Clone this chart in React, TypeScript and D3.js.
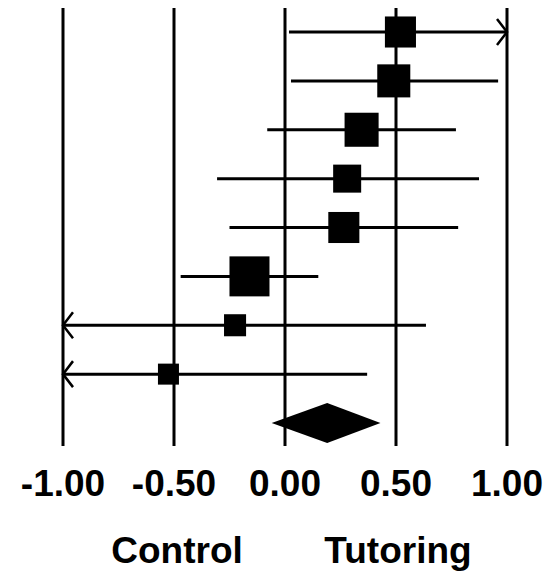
import React from 'react';
import * as d3 from 'd3';

// effect sizes per study, last entry is the pooled estimate
const studies = ['S1', 'S2', 'S3', 'S4', 'S5', 'S6', 'S7', 'S8'];
const estimate = [0.52, 0.49, 0.345, 0.28, 0.265, -0.16, -0.225, -0.525];
const lower = [0.018, 0.027, -0.08, -0.306, -0.25, -0.47, -1.2, -1.3];
const upper = [1.1, 0.96, 0.77, 0.874, 0.78, 0.15, 0.635, 0.37];
const weights = [12.9, 14.6, 15.5, 10.5, 12.9, 21.4, 6.5, 5.9];
const pooled = { est: 0.19, lo: -0.06, hi: 0.43 };
const tickValues = [-1, -0.5, 0, 0.5, 1];
const sideLabels = ['Control', 'Tutoring'];

const W = 555;
const H = 576;

export default function App() {
  const x = d3.scaleLinear().domain([-1, 1]).range([63, 507]);
  const y = d3.scalePoint<number>()
    .domain(d3.range(studies.length + 1))
    .range([32, 423]);
  const size = d3.scaleSqrt().domain([0, d3.max(weights) as number]).range([0, 40]);
  // plain hyphen, not the unicode minus d3.format gives
  const fmt = (v: number) => d3.format('.2f')(v).replace('\u2212', '-');
  const font = 'Liberation Sans, Arial, sans-serif';

  const clampX = (v: number) => x(Math.max(-1, Math.min(1, v)));
  const py = y(studies.length) as number;

  return (
    <svg width={W} height={H} style={{ position: 'absolute', left: 0, top: 0, background: '#fff' }}>
      {tickValues.map(t => (
        <line key={'v' + t} x1={x(t)} x2={x(t)} y1={8} y2={446} stroke="#000" strokeWidth={3} />
      ))}
      {studies.map((s, i) => {
        const yy = y(i) as number;
        const x1 = clampX(lower[i]);
        const x2 = clampX(upper[i]);
        const sz = size(weights[i]);
        return (
          <g key={s}>
            <line x1={x1} x2={x2} y1={yy} y2={yy} stroke="#000" strokeWidth={3} />
            {upper[i] > 1 && (
              <polyline points={`${x2 - 10},${yy - 13} ${x2},${yy} ${x2 - 10},${yy + 13}`}
                fill="none" stroke="#000" strokeWidth={2.5} />
            )}
            {lower[i] < -1 && (
              <polyline points={`${x1 + 10},${yy - 13} ${x1},${yy} ${x1 + 10},${yy + 13}`}
                fill="none" stroke="#000" strokeWidth={2.5} />
            )}
            <rect x={x(estimate[i]) - sz / 2} y={yy - sz / 2} width={sz} height={sz} fill="#000" />
          </g>
        );
      })}
      <path
        d={`M${x(pooled.lo)},${py} L${x(pooled.est)},${py - 20} L${x(pooled.hi)},${py} L${x(pooled.est)},${py + 20} Z`}
        fill="#000" />
      {tickValues.map(t => (
        <text key={'t' + t} x={x(t)} y={496} textAnchor="middle" fontFamily={font}
          fontWeight="bold" fontSize={37}>{fmt(t)}</text>
      ))}
      <text x={177} y={563} textAnchor="middle" fontFamily={font} fontWeight="bold" fontSize={37}>{sideLabels[0]}</text>
      <text x={398} y={563} textAnchor="middle" fontFamily={font} fontWeight="bold" fontSize={37}>{sideLabels[1]}</text>
    </svg>
  );
}
